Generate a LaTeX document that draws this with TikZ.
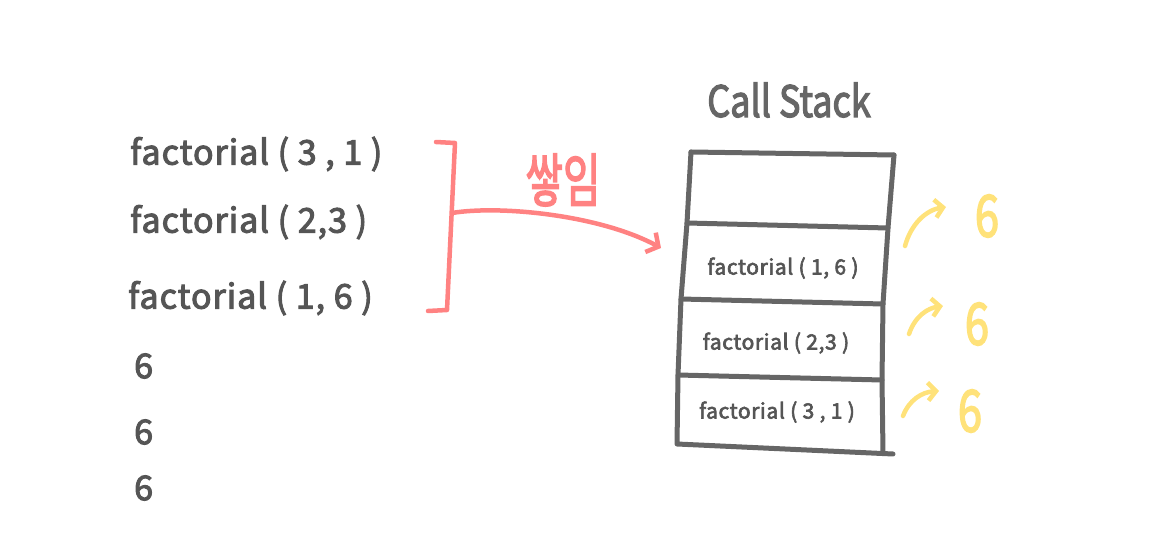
\documentclass[tikz,border=0pt]{standalone}
\usepackage{fontspec}
\setmainfont{Noto Sans CJK KR}
\newfontfamily\hand{Noto Sans CJK KR}[FakeBold=3,LetterSpace=3]
\newfontfamily\handt{Noto Sans CJK KR}[FakeBold=3]
\usetikzlibrary{arrows.meta}
\definecolor{ink}{HTML}{555555}
\definecolor{inkb}{HTML}{666666}
\definecolor{pinkc}{HTML}{FF8282}
\definecolor{yel}{HTML}{FFE27A}
\tikzset{
  bigtxt/.style={text=ink, font=\hand\fontsize{34}{36}\selectfont, inner sep=0pt, anchor=west},
  smalltxt/.style={text=ink, font=\hand\fontsize{21}{23}\selectfont, inner sep=0pt},
  sixtxt/.style={text=yel, font=\handt\fontsize{58}{60}\selectfont, inner sep=0pt},
  stackline/.style={draw=inkb, line width=5pt, line cap=round, line join=round},
  pinkline/.style={draw=pinkc, line width=4.5pt, line cap=round, line join=round},
  yelarrow/.style={draw=yel, line width=4.5pt, line cap=round, -{Straight Barb[length=8pt,width=18pt,line width=4.5pt]}},
}
\begin{document}
\begin{tikzpicture}[x=1pt,y=-1pt]
\useasboundingbox (0,0) rectangle (1157,540);
% left texts
\node[bigtxt] (l1) at (130,154) {factorial ( 3 , 1 )};
\node[bigtxt] (l2) at (130,222) {factorial ( 2,3 )};
\node[bigtxt] (l3) at (128,298) {factorial ( 1, 6 )};
\node[bigtxt] (s1) at (134,366) {6};
\node[bigtxt] (s2) at (134,432) {6};
\node[bigtxt] (s3) at (134,488) {6};
% bracket
\coordinate (bt0) at (436,142);
\coordinate (bt1) at (455,143);
\coordinate (bb1) at (447,310);
\coordinate (bb0) at (428,311);
\draw[pinkline] (bt0) -- (bt1) -- (bb1) -- (bb0);
\coordinate (as) at (452,213);
\coordinate (ae) at (661,248);
\draw[pinkline, -{Straight Barb[length=9pt,width=22pt,line width=4.5pt]}] (as) .. controls (500,205) and (600,215) .. (ae);
\node[text=pinkc, font=\handt\fontsize{40}{42}\selectfont, inner sep=0pt] (lab) at (563,180) {\scalebox{1.02}[1.45]{쌓임}};
% call stack title
\node[text=inkb, font=\handt\fontsize{36}{40}\selectfont, inner sep=0pt] (title) at (789,100) {\scalebox{1}[1.2]{Call Stack}};
% stack box
\coordinate (tl) at (691,152);
\coordinate (tr) at (894,155);
\coordinate (d1l) at (687,223);
\coordinate (d1r) at (888,228);
\coordinate (d2l) at (681,299);
\coordinate (d2r) at (883,304);
\coordinate (d3l) at (678,375);
\coordinate (d3r) at (882,380);
\coordinate (bl) at (677,444);
\coordinate (br) at (893,454);
\draw[stackline] (tl) -- (tr);
\draw[stackline] (tl) -- (d1l) -- (d2l) -- (d3l) -- (bl) -- (br);
\draw[stackline] (tr) -- (d1r) -- (d2r) -- (d3r) -- (883,452);
\draw[stackline] (d1l) -- (d1r);
\draw[stackline] (d2l) -- (d2r);
\draw[stackline] (d3l) -- (d3r);
\node[smalltxt] (k1) at (783,268) {factorial ( 1, 6 )};
\node[smalltxt] (k2) at (776,343) {factorial ( 2,3 )};
\node[smalltxt] (k3) at (777,412) {factorial ( 3 , 1 )};
% yellow arrows and sixes
\node[sixtxt] (y1) at (987,216) {\scalebox{0.75}[1]{6}};
\node[sixtxt] (y2) at (977,324) {\scalebox{0.75}[1]{6}};
\node[sixtxt] (y3) at (970,411) {\scalebox{0.75}[1]{6}};
\draw[yelarrow] (905,246) .. controls (911,224) and (926,210) .. (946,207);
\draw[yelarrow] (909,334) .. controls (915,316) and (928,308) .. (943,306);
\draw[yelarrow] (903,416) .. controls (909,400) and (922,392) .. (939,391);
\end{tikzpicture}
\end{document}
